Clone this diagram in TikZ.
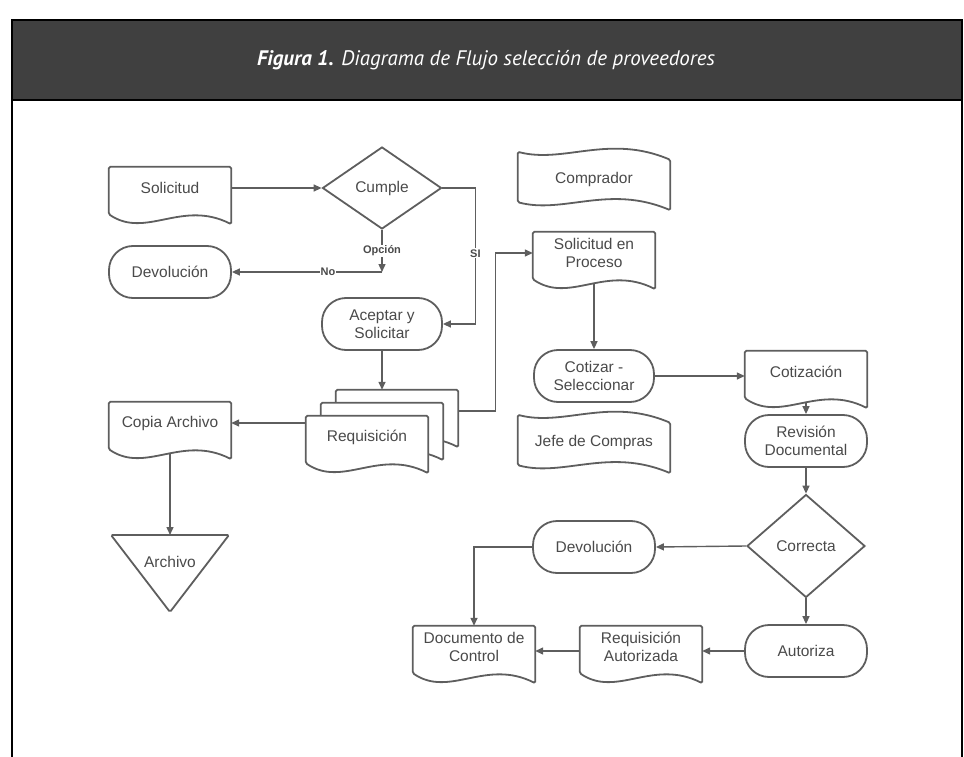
\documentclass[tikz,border=0pt]{standalone}
\usepackage{fontspec}
\setmainfont{Liberation Sans}
\newfontfamily\titlefont{PT Sans}
\usetikzlibrary{shapes.geometric,arrows.meta}
\definecolor{linegray}{HTML}{5E5E5E}
\definecolor{txtgray}{HTML}{4A4A4A}
\definecolor{hdrgray}{HTML}{404040}
\pgfdeclarelayer{wires}
\pgfdeclarelayer{paper}
\pgfsetlayers{wires,paper,main}

\begin{document}
\begin{tikzpicture}[
    x=1pt, y=-1pt,
    % Box styles (documents, banners, terminals, decisions)
    every node/.style={text=txtgray, font=\fontsize{15.5}{18}\selectfont, align=center},
    doc/.style={minimum width=122pt, minimum height=42pt, inner sep=0pt},
    banner/.style={minimum width=152pt, minimum height=40pt, inner sep=0pt},
    term/.style={draw=linegray, line width=1.8pt, rounded corners=24pt, minimum width=122pt, minimum height=52pt, inner sep=0pt},
    choice/.style={diamond, draw=linegray, line width=1.8pt, minimum width=119pt, minimum height=82pt, inner sep=0pt},
    outline/.style={draw=linegray, line width=1.8pt, fill=white, rounded corners=1.5pt},
    flow/.style={draw=linegray, line width=1.4pt, -{Triangle[length=8pt,width=7pt]}},
    tag/.style={fill=white, font=\bfseries\fontsize{11}{12}\selectfont, inner sep=1pt}
]
\useasboundingbox (0,0) rectangle (964,757);

% ---------------------------------------------------------
% 1. FRAME AND TITLE
% ---------------------------------------------------------
\fill[hdrgray] (12,20) rectangle (962,100);
\draw[line width=2pt] (12,757) -- (12,20) -- (962,20) -- (962,757);
\draw[line width=2pt] (12,100) -- (962,100);
\node[text=white, font=\titlefont\fontsize{21}{25}\selectfont\itshape] (title) at (486,60) {\textbf{Figura 1.} Diagrama de Flujo selección de proveedores};

% ---------------------------------------------------------
% 2. BOXES AND TEXT (Nodes)
% ---------------------------------------------------------
% --- Left column ---
\node[doc] (sol) at (170,188) {Solicitud};
\node[choice] (cumple) at (382,188) {Cumple};
\node[term] (dev1) at (170,272) {Devolución};
\node[term, minimum width=120pt] (acep) at (382,324) {Aceptar y\\Solicitar};

\node[doc] (reqback) at (397,411) {};
\node[doc] (reqmid) at (382,424) {};
\node[doc] (req) at (367,437) {Requisición};

\node[doc] (copia) at (170,423) {Copia Archivo};
\node (archivo) at (170,562) {Archivo};
\coordinate (archtop) at (170,535);

% --- Middle column ---
\node[banner] (compr) at (594,179) {Comprador};
\node[doc] (solp) at (594,253) {Solicitud en\\Proceso};
\node[term, minimum width=120pt] (cot) at (594,376) {Cotizar -\\Seleccionar};
\node[banner] (jefe) at (594,442) {Jefe de Compras};
\node[term] (dev2) at (594,547) {Devolución};

% --- Right column ---
\node[doc] (cotz) at (806,372) {Cotización};
\node[term] (rev) at (806,441) {Revisión\\Documental};
\node[choice, minimum width=118pt, minimum height=103pt] (corr) at (806,546) {Correcta};
\node[term] (aut) at (806,651) {Autoriza};

% --- Bottom row ---
\node[doc] (reqa) at (641,647) {Requisición\\Autorizada};
\node[doc] (docc) at (474,647) {Documento de\\Control};

% ---------------------------------------------------------
% 3. OUTLINES (documents, banners, triangle)
% ---------------------------------------------------------
\begin{pgfonlayer}{paper}
\foreach \n in {sol, copia, reqback, reqmid, req, solp, cotz, reqa, docc}
  \draw[outline] ([yshift=-5pt]\n.south west) -- (\n.north west) -- (\n.north east) -- ([yshift=-15pt]\n.south east)
    .. controls ([xshift=73pt,yshift=10pt]\n.south west) and ([xshift=37pt,yshift=-30pt]\n.south west) .. ([yshift=-5pt]\n.south west) -- cycle;

\foreach \n in {compr, jefe}
  \draw[outline] ([yshift=7pt]\n.north west)
    .. controls ([xshift=46pt,yshift=-5pt]\n.north west) and ([xshift=91pt,yshift=25pt]\n.north west) .. ([yshift=-1pt]\n.north east)
    -- ([yshift=-11pt]\n.south east)
    .. controls ([xshift=91pt,yshift=15pt]\n.south west) and ([xshift=46pt,yshift=-15pt]\n.south west) .. ([yshift=-3pt]\n.south west) -- cycle;

\draw[outline] (111,535) -- (229,535) -- (170,612) -- cycle;
\end{pgfonlayer}

% ---------------------------------------------------------
% 4. CONNECTORS
% ---------------------------------------------------------
\begin{pgfonlayer}{wires}
\draw[flow] (sol) -- (cumple);
\draw[flow] (cumple.south) -- node[tag]{Opción} (cumple.south |- dev1.east) coordinate (opc);
\draw[flow] (opc) -- node[tag, pos=0.36]{No} (dev1.east);
\draw[flow] (cumple.east) -- ++(33,0) |- node[tag, pos=0.24]{SI} (acep.east);
\draw[flow] (acep.south) -- (acep.south |- reqback.north);
\draw[flow] (req.west |- copia.east) -- (copia.east);
\draw[flow] (copia.south) -- (archtop);
\draw[flow] (reqback.east) -- ++(37,0) |- (solp.west);
\draw[flow] (solp.south) -- (cot.north);
\draw[flow] (cot.east) -- (cot.east -| cotz.west);
\draw[flow] (cotz.south) -- (rev.north);
\draw[flow] (rev.south) -- (corr.north);
\draw[flow] (corr.west) -- (dev2.east);
\draw[flow] (corr.south) -- (aut.north);
\draw[flow] (aut.west) -- (aut.west -| reqa.east);
\draw[flow] (aut.west -| reqa.west) -- (aut.west -| docc.east);
\draw[flow] (dev2.west) -| (docc.north);
\end{pgfonlayer}

\end{tikzpicture}
\end{document}
